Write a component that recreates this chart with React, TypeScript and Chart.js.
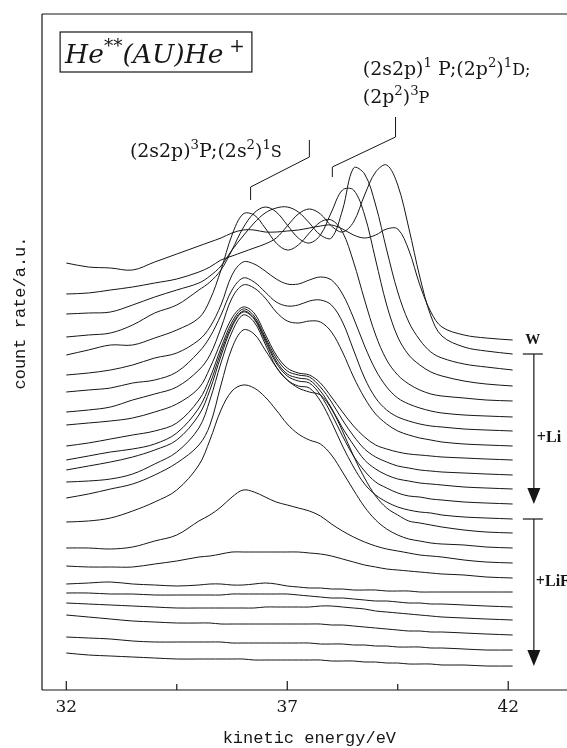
import React, { useEffect, useRef } from 'react';
import { Chart, registerables } from 'chart.js';

Chart.register(...registerables);

// ---------- data ----------
const ENERGY_EV = [32, 32.5, 33, 33.5, 34, 34.5, 35, 35.25, 35.5, 35.75, 36, 36.25, 36.5, 36.75, 37, 37.25, 37.5, 37.75, 38, 38.25, 38.5, 38.75, 39, 39.25, 39.5, 39.75, 40, 40.25, 40.5, 41, 41.5, 42.1];

// count rate (a.u.), spectra stacked with vertical offsets as in the figure
const SPEC_W = [427, 423, 422, 420, 428, 436, 444, 448, 452, 457, 460, 460, 458, 458, 459, 460, 462, 464, 465, 461, 455, 452, 455, 461, 461, 440, 405, 378, 363, 355, 352, 350];

const SPEC_LI_1 = [396, 397, 400, 403, 407, 411, 418, 423, 430, 434, 438, 442, 446, 452, 464, 476, 481, 476, 464, 458, 468, 495, 518, 525, 505, 462, 413, 374, 354, 343, 339, 336];
const SPEC_LI_2 = [376, 377, 378, 385, 393, 400, 407, 414, 424, 440, 454, 467, 477, 482, 483, 478, 467, 455, 452, 480, 522, 516, 485, 440, 398, 368, 350, 338, 332, 326, 323, 320];
const SPEC_LI_3 = [353, 355, 357, 365, 377, 385, 400, 408, 420, 440, 462, 477, 483, 478, 465, 452, 447, 455, 478, 500, 500, 475, 430, 385, 353, 335, 325, 318, 314, 309, 306, 304];
const SPEC_LI_4 = [335, 340, 345, 345, 352, 360, 372, 390, 420, 455, 476, 475, 462, 447, 440, 445, 457, 468, 470, 458, 428, 390, 355, 330, 315, 306, 300, 296, 294, 292, 290, 289];
const SPEC_LI_5 = [315, 317, 320, 325, 332, 337, 350, 363, 385, 415, 428, 426, 419, 411, 406, 406, 410, 413, 410, 396, 372, 344, 320, 303, 292, 286, 282, 279, 277, 275, 274, 273];
const SPEC_LI_6 = [298, 300, 302, 307, 310, 318, 338, 353, 375, 400, 412, 408, 398, 388, 384, 385, 389, 390, 385, 368, 340, 312, 292, 280, 273, 269, 266, 264, 263, 261, 260, 259];
const SPEC_LI_7 = [278, 280, 283, 290, 296, 303, 320, 335, 362, 392, 405, 402, 392, 378, 369, 367, 369, 368, 358, 338, 313, 292, 276, 266, 259, 255, 252, 250, 248, 246, 245, 244];
const SPEC_LI_8 = [265, 267, 269, 272, 278, 286, 302, 322, 348, 372, 383, 377, 356, 335, 322, 317, 315, 307, 293, 278, 264, 253, 245, 241, 238, 236, 235, 234, 233, 232, 231, 230];
const SPEC_LI_9 = [244, 247, 251, 255, 259, 267, 290, 312, 342, 368, 381, 374, 353, 332, 319, 315, 313, 303, 288, 270, 254, 241, 233, 228, 224, 222, 220, 219, 218, 217, 216, 215];
const SPEC_LI_10 = [230, 234, 238, 241, 246, 257, 282, 306, 338, 365, 379, 372, 351, 329, 316, 312, 310, 299, 282, 262, 245, 230, 221, 215, 211, 209, 207, 206, 205, 203, 202, 201];
const SPEC_LI_11 = [220, 224, 228, 233, 240, 250, 275, 300, 334, 363, 378, 371, 349, 327, 314, 309, 307, 295, 276, 254, 234, 219, 208, 202, 197, 194, 193, 191, 190, 188, 187, 186];

const SPEC_LIF_1 = [208, 209, 211, 216, 226, 238, 262, 290, 327, 358, 375, 368, 346, 323, 310, 304, 302, 289, 268, 244, 223, 206, 195, 188, 183, 180, 178, 177, 175, 173, 172, 171];
const SPEC_LIF_2 = [192, 196, 201, 206, 215, 227, 245, 265, 305, 342, 360, 356, 340, 323, 310, 302, 298, 295, 281, 259, 234, 212, 194, 182, 175, 169, 167, 165, 163, 160, 158, 157];
const SPEC_LIF_3 = [168, 169, 172, 179, 188, 200, 225, 250, 280, 299, 305, 302, 293, 280, 266, 256, 250, 246, 235, 218, 200, 183, 170, 161, 155, 151, 149, 147, 146, 145, 143, 142];
const SPEC_LIF_4 = [142, 142, 141, 143, 149, 155, 169, 175, 183, 193, 200, 198, 193, 188, 185, 182, 179, 174, 166, 159, 153, 148, 144, 141, 139, 137, 135, 134, 133, 130, 128, 127];
const SPEC_LIF_5 = [124, 123, 123, 123, 126, 129, 133, 134, 136, 138, 138, 138, 138, 138, 138, 138, 137, 136, 134, 131, 128, 125, 123, 121, 120, 119, 118, 117, 116, 115, 113, 112];
const SPEC_LIF_6 = [106, 107, 108, 106, 105, 104, 105, 106, 106, 105, 105, 106, 107, 106, 104, 103, 102, 102, 101, 101, 100, 100, 100, 99, 99, 99, 98, 98, 98, 98, 98, 98];
const SPEC_LIF_7 = [97, 97, 96, 96, 95, 95, 95, 95, 95, 96, 96, 96, 96, 96, 96, 95, 94, 93, 92, 92, 91, 90, 89, 89, 88, 87, 87, 86, 86, 85, 84, 83];
const SPEC_LIF_8 = [87, 86, 85, 84, 83, 82, 82, 82, 82, 82, 82, 82, 83, 83, 83, 83, 83, 84, 84, 83, 82, 81, 79, 78, 77, 76, 75, 74, 73, 72, 71, 70];
const SPEC_LIF_9 = [75, 73, 71, 69, 68, 67, 67, 67, 66, 66, 66, 66, 66, 66, 66, 66, 66, 66, 65, 65, 64, 63, 62, 61, 60, 59, 59, 58, 58, 57, 56, 55];
const SPEC_LIF_10 = [53, 52, 51, 49, 48, 48, 48, 48, 48, 47, 47, 47, 47, 47, 47, 47, 47, 46, 46, 46, 45, 45, 44, 44, 43, 43, 43, 42, 42, 41, 40, 40];
const SPEC_LIF_11 = [37, 35, 34, 33, 32, 31, 31, 31, 31, 31, 31, 30, 30, 30, 30, 30, 30, 30, 29, 29, 29, 28, 28, 27, 27, 26, 26, 26, 25, 25, 24, 24];

const GROUP_W = [SPEC_W];
const GROUP_LI = [SPEC_LI_1, SPEC_LI_2, SPEC_LI_3, SPEC_LI_4, SPEC_LI_5, SPEC_LI_6, SPEC_LI_7, SPEC_LI_8, SPEC_LI_9, SPEC_LI_10, SPEC_LI_11];
const GROUP_LIF = [SPEC_LIF_1, SPEC_LIF_2, SPEC_LIF_3, SPEC_LIF_4, SPEC_LIF_5, SPEC_LIF_6, SPEC_LIF_7, SPEC_LIF_8, SPEC_LIF_9, SPEC_LIF_10, SPEC_LIF_11];

const X_TICK_LABELS = [32, 37, 42];
const X_MINOR_TICKS = [34.5, 39.5];
const X_MIN = 31.45;
const X_MAX = 43.33;
const Y_MIN = 0;
const Y_MAX = 676;

const X_TITLE = 'kinetic energy/eV';
const Y_TITLE = 'count rate/a.u.';

// annotation anchors in data units (eV, a.u.)
const BRACKET_LOW = [[36.17, 490], [36.17, 503], [37.5, 533], [37.5, 550]];
const BRACKET_HIGH = [[38.02, 513], [38.02, 523], [39.45, 553], [39.45, 573]];
const ANNOT_LOW_AT = [33.44, 533];
const ANNOT_HIGH_AT = [38.71, 615, 587];
const TITLE_BOX = [31.86, 658, 36.2, 618];
const MARK_X = 42.58;
const LABEL_LI_AT = 252;
const LABEL_LIF_AT = 108;

const INK = '#161616';
const SERIF = '"DejaVu Serif", "Liberation Serif", serif';
const SERIF_NARROW = '"Liberation Serif", "DejaVu Serif", serif';
const MONO = '"Liberation Mono", "DejaVu Sans Mono", monospace';

type Seg = { t: string; sup?: boolean; small?: boolean };

function richWidth(ctx: CanvasRenderingContext2D, segs: Seg[], size: number, style: string, fam: string) {
  let w = 0;
  for (const s of segs) {
    const fs = s.sup ? size * 0.7 : s.small ? size * 0.85 : size;
    ctx.font = `${style} ${fs}px ${fam}`;
    w += ctx.measureText(s.t).width;
  }
  return w;
}

function drawRich(ctx: CanvasRenderingContext2D, segs: Seg[], x: number, y: number, size: number, style: string, fam: string) {
  let cx = x;
  ctx.textAlign = 'left';
  ctx.textBaseline = 'alphabetic';
  for (const s of segs) {
    const fs = s.sup ? size * 0.7 : s.small ? size * 0.85 : size;
    ctx.font = `${style} ${fs}px ${fam}`;
    const dy = s.sup ? -size * 0.42 : 0;
    ctx.fillText(s.t, cx, y + dy);
    cx += ctx.measureText(s.t).width;
  }
}

function fitSize(ctx: CanvasRenderingContext2D, segs: Seg[], target: number, style: string, fam: string) {
  const w = richWidth(ctx, segs, 20, style, fam);
  return (20 * target) / w;
}

const ANNOT_LOW: Seg[] = [{ t: '(2s2p)' }, { t: '3', sup: true }, { t: 'P;(2s' }, { t: '2', sup: true }, { t: ')' }, { t: '1', sup: true }, { t: 'S', small: true }];
const ANNOT_HIGH_1: Seg[] = [{ t: '(2s2p)' }, { t: '1', sup: true }, { t: ' P;(2p' }, { t: '2', sup: true }, { t: ')' }, { t: '1', sup: true }, { t: 'D;', small: true }];
const ANNOT_HIGH_2: Seg[] = [{ t: '(2p' }, { t: '2', sup: true }, { t: ')' }, { t: '3', sup: true }, { t: 'P', small: true }];
const TITLE_SEGS: Seg[] = [{ t: 'He' }, { t: '**', sup: true }, { t: '(AU)He' }, { t: ' +', sup: true }];

const decor = {
  id: 'decor',
  afterDatasetsDraw(chart: any) {
    const { ctx, chartArea: ca, scales } = chart;
    const xs = scales.x;
    const ys = scales.y;
    const X = (e: number) => xs.getPixelForValue(e);
    const Y = (v: number) => ys.getPixelForValue(v);
    const seg = (x1: number, y1: number, x2: number, y2: number) => {
      ctx.beginPath();
      ctx.moveTo(x1, y1);
      ctx.lineTo(x2, y2);
      ctx.stroke();
    };
    const poly = (pts: number[][]) => {
      ctx.beginPath();
      pts.forEach((p, i) => (i ? ctx.lineTo(X(p[0]), Y(p[1])) : ctx.moveTo(X(p[0]), Y(p[1]))));
      ctx.stroke();
    };
    ctx.save();
    ctx.strokeStyle = INK;
    ctx.fillStyle = INK;
    ctx.lineWidth = 1.2;

    // frame
    seg(ca.left, ca.top, ca.left, ca.bottom);
    seg(ca.left, ca.top, ca.right, ca.top);
    seg(ca.left, ca.bottom, ca.right, ca.bottom);
    // inward ticks
    X_TICK_LABELS.forEach((e) => seg(X(e), ca.bottom, X(e), ca.bottom - 9));
    X_MINOR_TICKS.forEach((e) => seg(X(e), ca.bottom, X(e), ca.bottom - 6));

    // axis titles
    ctx.font = `17px ${MONO}`;
    ctx.textAlign = 'center';
    ctx.textBaseline = 'middle';
    ctx.fillText(X_TITLE, X(37.5), ca.bottom + 48);
    ctx.save();
    ctx.translate(20, Y(377));
    ctx.rotate(-Math.PI / 2);
    ctx.fillText(Y_TITLE, 0, 0);
    ctx.restore();

    // title box
    ctx.lineWidth = 1.2;
    const bx1 = X(TITLE_BOX[0]), by1 = Y(TITLE_BOX[1]), bx2 = X(TITLE_BOX[2]), by2 = Y(TITLE_BOX[3]);
    ctx.strokeRect(bx1, by1, bx2 - bx1, by2 - by1);
    const tSize = Math.min(27, fitSize(ctx, TITLE_SEGS, bx2 - bx1 - 12, 'italic', SERIF));
    drawRich(ctx, TITLE_SEGS, bx1 + 5, by2 - 9, tSize, 'italic', SERIF);

    // brackets
    ctx.lineWidth = 1;
    poly(BRACKET_LOW);
    poly(BRACKET_HIGH);

    // state annotations
    const aSize = fitSize(ctx, ANNOT_LOW, 152, 'normal', SERIF);
    drawRich(ctx, ANNOT_LOW, X(ANNOT_LOW_AT[0]), Y(ANNOT_LOW_AT[1]), aSize, 'normal', SERIF);
    drawRich(ctx, ANNOT_HIGH_1, X(ANNOT_HIGH_AT[0]), Y(ANNOT_HIGH_AT[1]), aSize, 'normal', SERIF);
    drawRich(ctx, ANNOT_HIGH_2, X(ANNOT_HIGH_AT[0]), Y(ANNOT_HIGH_AT[2]), aSize, 'normal', SERIF);

    // group markers on the right
    const last = (a: number[]) => a[a.length - 1];
    const mx = X(MARK_X);
    ctx.font = `bold 15px ${SERIF_NARROW}`;
    ctx.textAlign = 'center';
    ctx.textBaseline = 'middle';
    ctx.fillText('W', mx - 1, Y(last(GROUP_W[0])));

    const drawArrow = (topVal: number, botVal: number) => {
      const yt = Y(topVal), yb = Y(botVal);
      ctx.lineWidth = 1.2;
      seg(mx - 11, yt, mx + 9, yt);
      seg(mx, yt, mx, yb - 14);
      ctx.beginPath();
      ctx.moveTo(mx - 6.5, yb - 16);
      ctx.lineTo(mx + 6.5, yb - 16);
      ctx.lineTo(mx, yb);
      ctx.closePath();
      ctx.fill();
    };
    drawArrow(last(GROUP_LI[0]), last(GROUP_LI[GROUP_LI.length - 1]));
    drawArrow(last(GROUP_LIF[0]), last(GROUP_LIF[GROUP_LIF.length - 1]));

    ctx.font = `bold 16px ${SERIF_NARROW}`;
    ctx.textAlign = 'left';
    ctx.textBaseline = 'middle';
    ctx.fillText('+Li', mx + 3, Y(LABEL_LI_AT));
    ctx.fillText('+LiF', mx + 2, Y(LABEL_LIF_AT));

    ctx.restore();
  },
};

export default function App() {
  const ref = useRef<HTMLCanvasElement | null>(null);
  useEffect(() => {
    document.body.style.margin = '0';
    document.body.style.overflow = 'hidden';
    const all = [...GROUP_W, ...GROUP_LI, ...GROUP_LIF];
    const chart = new Chart(ref.current as HTMLCanvasElement, {
      type: 'line',
      data: {
        datasets: all.map((s, k) => ({
          label: `spectrum ${k + 1}`,
          data: ENERGY_EV.map((e, i) => ({ x: e, y: s[i] })),
          borderColor: INK,
          borderWidth: 1,
          pointRadius: 0,
          tension: 0.35,
          fill: false,
        })),
      },
      options: {
        animation: false,
        responsive: false,
        devicePixelRatio: 1,
        layout: { padding: { left: 42, top: 14, right: 0, bottom: 0 } },
        plugins: { legend: { display: false }, tooltip: { enabled: false } },
        scales: {
          x: {
            type: 'linear',
            min: X_MIN,
            max: X_MAX,
            afterFit: (s: any) => {
              s.height = 58;
            },
            afterBuildTicks: (s: any) => {
              s.ticks = X_TICK_LABELS.map((v) => ({ value: v }));
            },
            grid: { display: false, drawTicks: false },
            border: { display: false },
            ticks: {
              padding: 7,
              color: INK,
              autoSkip: false,
              maxRotation: 0,
              font: { family: SERIF, size: 17 },
              callback: (v: any) => String(v),
            },
          },
          y: { type: 'linear', min: Y_MIN, max: Y_MAX, display: false },
        },
      } as any,
      plugins: [decor],
    });
    return () => chart.destroy();
  }, []);
  return (
    <div style={{ position: 'fixed', left: 0, top: 0, width: 567, height: 748, background: '#fff' }}>
      <canvas ref={ref} width={567} height={748} style={{ display: 'block', width: 567, height: 748 }} />
    </div>
  );
}
